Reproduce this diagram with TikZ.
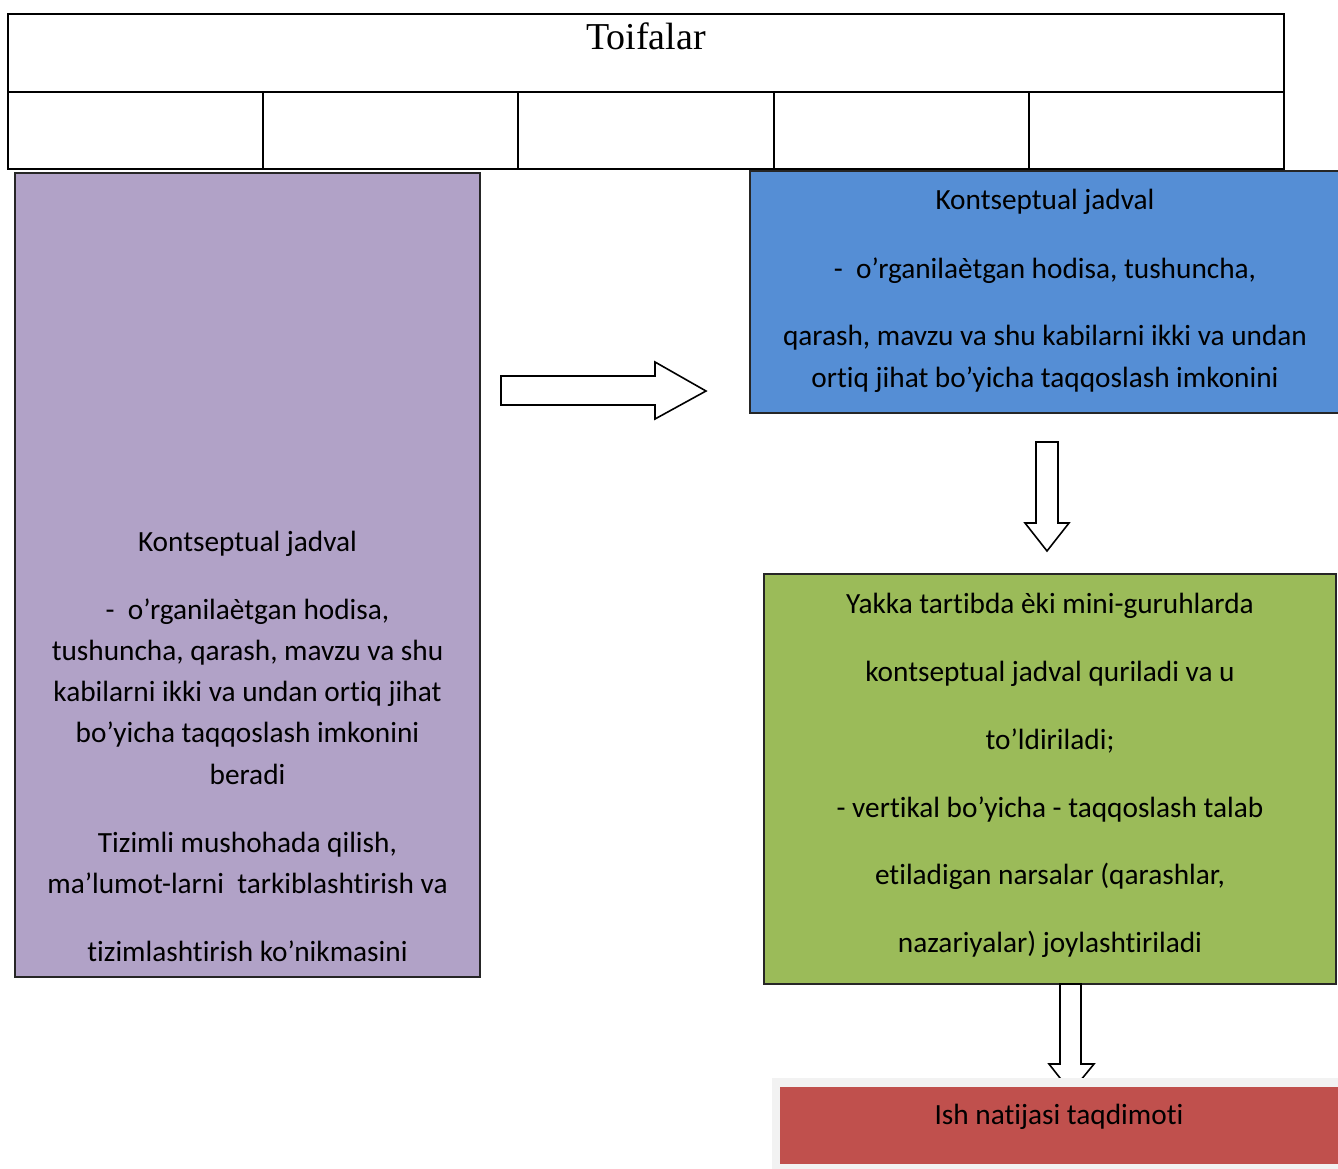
\documentclass[tikz,border=0pt]{standalone}
\usepackage{fontspec}
\setmainfont[Ligatures=CommonOff]{Carlito}
\newfontfamily\titlefont{Liberation Serif}
\definecolor{lilac}{RGB}{177,162,199}
\definecolor{skyblue}{RGB}{85,142,213}
\definecolor{olivegreen}{RGB}{155,187,89}
\definecolor{brickred}{RGB}{192,80,77}
\definecolor{paleback}{RGB}{242,242,242}
\begin{document}
\begin{tikzpicture}[x=1pt,y=-1pt,
  box/.style={draw=black!85,line width=1.6pt},
  grid/.style={draw=black,line width=2pt},
  blockarrow/.style={draw=black,line width=1.6pt,fill=white,line join=miter},
  txt/.style={anchor=base,inner sep=0pt,font=\fontsize{29.3}{35}\selectfont}]
\useasboundingbox (0,0) rectangle (1338,1169);
\clip (0,0) rectangle (1338,1169);
\fill[white] (0,0) rectangle (1338,1169);

% category table
\draw[grid] (8,14) rectangle (1284,169);
\draw[grid] (8,92) -- (1284,92);
\foreach \x in {263,518,774,1029} \draw[grid,line width=1.6pt] (\x,92) -- (\x,169);
\node[anchor=base,inner sep=0pt,font=\titlefont\fontsize{38}{44}\selectfont] (title) at (646,50) {Toifalar};

% left box
\draw[box,fill=lilac] (15,173) rectangle (480,977);
\foreach \y/\t [count=\i] in {551/{Kontseptual jadval},
  619/{-\ \ o’rganilaètgan hodisa,},
  660/{tushuncha, qarash, mavzu va shu},
  701/{kabilarni ikki va undan ortiq jihat},
  742/{bo’yicha taqqoslash imkonini},
  784/{beradi},
  852/{Tizimli mushohada qilish,},
  893/{ma’lumot-larni\ \ tarkiblashtirish va},
  961/{tizimlashtirish ko’nikmasini}}
  \node[txt] (left\i) at (247.5,\y) {\t};

% right arrow
\draw[blockarrow] (501,376) -- (655,376) -- (655,362) -- (706,391) -- (655,419)
  -- (655,405) -- (501,405) -- cycle;

% blue box
\draw[box,fill=skyblue] (750,171) rectangle (1345,413);
\foreach \y/\t [count=\i] in {210/{Kontseptual jadval},
  278/{-\ \ o’rganilaètgan hodisa, tushuncha,},
  345/{qarash, mavzu va shu kabilarni ikki va undan},
  387/{ortiq jihat bo’yicha taqqoslash imkonini}}
  \node[txt] (blue\i) at (1045,\y) {\t};

% down arrow between blue and green
\draw[blockarrow] (1036,442) -- (1058,442) -- (1058,523) -- (1069,523) -- (1047,551)
  -- (1025,523) -- (1036,523) -- cycle;

% green box
\draw[box,fill=olivegreen] (764,574) rectangle (1336,984);
\foreach \y/\t [count=\i] in {613/{Yakka tartibda èki mini-guruhlarda},
  681/{kontseptual jadval quriladi va u},
  749/{to’ldiriladi;},
  817/{- vertikal bo’yicha - taqqoslash talab},
  884/{etiladigan narsalar (qarashlar,},
  952/{nazariyalar) joylashtiriladi}}
  \node[txt] (green\i) at (1050,\y) {\t};

% down arrow to result
\draw[blockarrow] (1060,984) -- (1081,984) -- (1081,1064) -- (1094,1064) -- (1071,1092)
  -- (1049,1064) -- (1060,1064) -- cycle;

% result box with light backing
\fill[paleback] (772,1078) rectangle (1345,1169);
\fill[brickred] (780,1087) rectangle (1345,1164);
\node[txt] (result) at (1059,1124) {Ish natijasi taqdimoti};
\end{tikzpicture}
\end{document}
